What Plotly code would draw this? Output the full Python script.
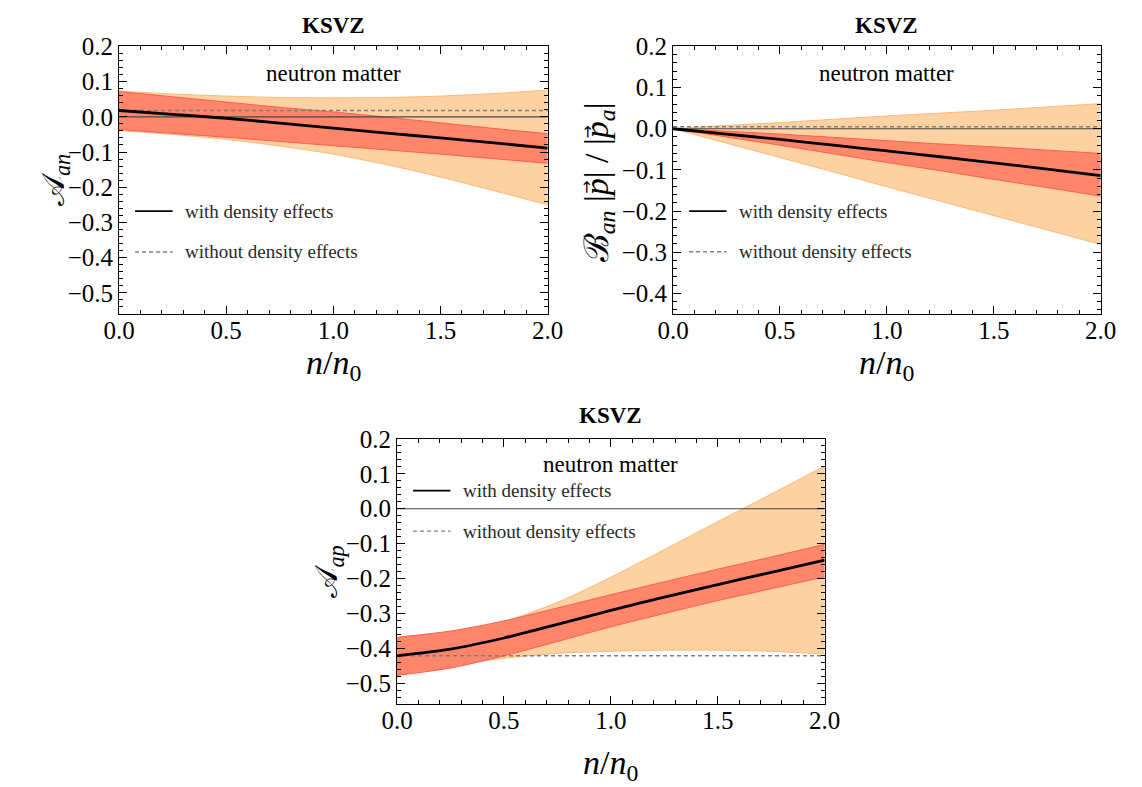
import plotly.graph_objects as go

x = [0.0, 0.25, 0.5, 0.75, 1.0, 1.25, 1.5, 1.75, 2.0]

# Panel 1: A_an
an_central = [0.018, 0.007, -0.004, -0.018, -0.032, -0.046, -0.060, -0.074, -0.089]
an_nodens = [0.018] * 9
an_red_hi = [0.072, 0.057, 0.042, 0.027, 0.014, -0.001, -0.017, -0.033, -0.048]
an_red_lo = [-0.036, -0.047, -0.058, -0.070, -0.082, -0.094, -0.106, -0.119, -0.132]
an_or_hi = [0.073, 0.065, 0.059, 0.055, 0.054, 0.055, 0.059, 0.066, 0.076]
an_or_lo = [-0.039, -0.050, -0.064, -0.083, -0.106, -0.136, -0.171, -0.210, -0.250]

# Panel 2: B_an |p|/|p_a|
bn_central = [0.0, -0.013, -0.026, -0.040, -0.054, -0.068, -0.083, -0.098, -0.114]
bn_nodens = [0.005] * 9
bn_red_hi = [0.0, -0.006, -0.013, -0.021, -0.029, -0.037, -0.044, -0.052, -0.060]
bn_red_lo = [0.0, -0.020, -0.040, -0.061, -0.082, -0.102, -0.123, -0.143, -0.164]
bn_or_hi = [0.0, 0.008, 0.015, 0.023, 0.031, 0.038, 0.045, 0.053, 0.061]
bn_or_lo = [0.0, -0.035, -0.070, -0.105, -0.141, -0.176, -0.211, -0.246, -0.281]

# Panel 3: A_ap
ap_central = [-0.421, -0.402, -0.370, -0.331, -0.291, -0.253, -0.217, -0.182, -0.147]
ap_nodens = [-0.421] * 9
ap_red_hi = [-0.368, -0.350, -0.321, -0.284, -0.246, -0.209, -0.173, -0.138, -0.102]
ap_red_lo = [-0.477, -0.456, -0.421, -0.380, -0.338, -0.300, -0.263, -0.229, -0.195]
ap_or_hi = [-0.370, -0.354, -0.323, -0.268, -0.196, -0.117, -0.037, 0.042, 0.122]
ap_or_lo = [-0.472, -0.449, -0.428, -0.414, -0.408, -0.405, -0.405, -0.408, -0.416]

panels = [
    dict(xa="x", ya="y", cen=an_central, nod=an_nodens, rh=an_red_hi, rl=an_red_lo,
         oh=an_or_hi, ol=an_or_lo, yr=[-0.56, 0.2], leg=(-0.268, -0.384), nm=0.123),
    dict(xa="x2", ya="y2", cen=bn_central, nod=bn_nodens, rh=bn_red_hi, rl=bn_red_lo,
         oh=bn_or_hi, ol=bn_or_lo, yr=[-0.45, 0.2], leg=(-0.200, -0.299), nm=0.134),
    dict(xa="x3", ya="y3", cen=ap_central, nod=ap_nodens, rh=ap_red_hi, rl=ap_red_lo,
         oh=ap_or_hi, ol=ap_or_lo, yr=[-0.56, 0.2], leg=(0.052, -0.064), nm=0.126),
]

OR_FILL = "rgb(253,210,163)"
OR_EDGE = "rgb(253,183,120)"
RED_FILL = "rgb(255,134,106)"
RED_EDGE = "rgb(250,95,75)"
FONT = "Liberation Serif, DejaVu Serif, serif"
SM = 0.8

fig = go.Figure()
for p in panels:
    xa, ya = p["xa"], p["ya"]
    fig.add_trace(go.Scatter(x=x, y=p["ol"], xaxis=xa, yaxis=ya, mode="lines",
                             line=dict(color=OR_EDGE, width=1, shape="spline", smoothing=SM),
                             showlegend=False, hoverinfo="skip"))
    fig.add_trace(go.Scatter(x=x, y=p["oh"], xaxis=xa, yaxis=ya, mode="lines",
                             line=dict(color=OR_EDGE, width=1, shape="spline", smoothing=SM),
                             fill="tonexty", fillcolor=OR_FILL,
                             showlegend=False, hoverinfo="skip"))
    fig.add_trace(go.Scatter(x=x, y=p["rl"], xaxis=xa, yaxis=ya, mode="lines",
                             line=dict(color=RED_EDGE, width=1, shape="spline", smoothing=SM),
                             showlegend=False, hoverinfo="skip"))
    fig.add_trace(go.Scatter(x=x, y=p["rh"], xaxis=xa, yaxis=ya, mode="lines",
                             line=dict(color=RED_EDGE, width=1, shape="spline", smoothing=SM),
                             fill="tonexty", fillcolor=RED_FILL,
                             showlegend=False, hoverinfo="skip"))
    # zero line
    fig.add_trace(go.Scatter(x=[x[0], x[-1]], y=[0, 0], xaxis=xa, yaxis=ya, mode="lines",
                             line=dict(color="rgb(70,70,70)", width=1.2),
                             showlegend=False, hoverinfo="skip"))
    fig.add_trace(go.Scatter(x=x, y=p["nod"], xaxis=xa, yaxis=ya, mode="lines",
                             line=dict(color="rgb(125,125,125)", width=1.6, dash="4px,3px"),
                             showlegend=False, hoverinfo="skip"))
    fig.add_trace(go.Scatter(x=x, y=p["cen"], xaxis=xa, yaxis=ya, mode="lines",
                             line=dict(color="black", width=2.8, shape="spline", smoothing=SM),
                             showlegend=False, hoverinfo="skip"))
    # legend samples
    ys, yd = p["leg"]
    fig.add_trace(go.Scatter(x=[0.075, 0.25], y=[ys, ys], xaxis=xa, yaxis=ya, mode="lines",
                             line=dict(color="black", width=1.8),
                             showlegend=False, hoverinfo="skip"))
    fig.add_trace(go.Scatter(x=[0.075, 0.25], y=[yd, yd], xaxis=xa, yaxis=ya, mode="lines",
                             line=dict(color="rgb(125,125,125)", width=1.4, dash="4px,3px"),
                             showlegend=False, hoverinfo="skip"))
    fig.add_annotation(x=0.30, y=ys, xref=xa, yref=ya, text="with density effects",
                       showarrow=False, xanchor="left", yanchor="middle",
                       font=dict(family=FONT, size=19, color="rgb(40,40,40)"))
    fig.add_annotation(x=0.30, y=yd, xref=xa, yref=ya, text="without density effects",
                       showarrow=False, xanchor="left", yanchor="middle",
                       font=dict(family=FONT, size=19, color="rgb(40,40,40)"))
    fig.add_annotation(x=1.0, y=p["nm"], xref=xa, yref=ya, text="neutron matter",
                       showarrow=False, xanchor="center", yanchor="middle",
                       font=dict(family=FONT, size=23, color="black"))

W, H = 1142, 787
dom = {
    "1": ([106 / W, 547 / W], [1 - 306 / H, 1 - 34 / H]),
    "2": ([676 / W, 1116 / W], [1 - 306 / H, 1 - 34 / H]),
    "3": ([392 / W, 832 / W], [1 - 703 / H, 1 - 433 / H]),
}

def xaxis(d, anchor):
    return dict(domain=d, range=[0, 2], anchor=anchor, showline=True, linecolor="black",
                linewidth=1, mirror="allticks", ticks="inside", ticklen=8, tickwidth=1,
                tickcolor="black", dtick=0.5, tick0=0, tickformat=".1f",
                ticklabelstandoff=-6,
                minor=dict(ticks="inside", dtick=0.1, ticklen=4, tickcolor="black", showgrid=False),
                showgrid=False, zeroline=False,
                tickfont=dict(family=FONT, size=25, color="black"))

def yaxis(d, anchor, r):
    return dict(domain=d, range=r, anchor=anchor, showline=True, linecolor="black",
                linewidth=1, mirror="allticks", ticks="inside", ticklen=8, tickwidth=1,
                tickcolor="black", dtick=0.1, tick0=0, tickformat=".1f",
                minor=dict(ticks="inside", dtick=0.02, ticklen=4, tickcolor="black", showgrid=False),
                showgrid=False, zeroline=False,
                tickfont=dict(family=FONT, size=25, color="black"))

fig.update_layout(
    width=W, height=H, margin=dict(l=0, r=0, t=0, b=0),
    plot_bgcolor="white", paper_bgcolor="white", showlegend=False,
    xaxis=xaxis(dom["1"][0], "y"), yaxis=yaxis(dom["1"][1], "x", panels[0]["yr"]),
    xaxis2=xaxis(dom["2"][0], "y2"), yaxis2=yaxis(dom["2"][1], "x2", panels[1]["yr"]),
    xaxis3=xaxis(dom["3"][0], "y3"), yaxis3=yaxis(dom["3"][1], "x3", panels[2]["yr"]),
)

# Titles
for cx, cy in [((106 + 547) / 2, 13), ((676 + 1116) / 2, 13), ((392 + 832) / 2, 409)]:
    fig.add_annotation(x=cx / W, y=1 - cy / H, xref="paper", yref="paper", text="<b>KSVZ</b>",
                       showarrow=False, xanchor="center", yanchor="middle",
                       font=dict(family=FONT, size=23, color="black"))

# x-axis titles
for cx, cy in [((106 + 547) / 2, 358), ((676 + 1116) / 2, 358), ((392 + 832) / 2, 765)]:
    fig.add_annotation(x=cx / W, y=1 - cy / H, xref="paper", yref="paper",
                       text="<i>n</i>/<i>n</i><sub>0</sub>",
                       showarrow=False, xanchor="center", yanchor="middle",
                       font=dict(family=FONT, size=34, color="black"))

# y-axis titles
ytitles = [
    (40, (34 + 306) / 2, "\U0001D49C<sub><i>an</i></sub>", 32),
    (600, 172, "\u212C<sub><i>an</i></sub> |<i>p</i>| / |<i>p</i><sub><i>a</i></sub>|", 34),
    (322, (433 + 703) / 2, "\U0001D49C<sub><i>ap</i></sub>", 32),
]
for cx, cy, t, fs in ytitles:
    fig.add_annotation(x=cx / W, y=1 - cy / H, xref="paper", yref="paper", text=t,
                       showarrow=False, xanchor="center", yanchor="middle", textangle=-90,
                       font=dict(family=FONT, size=fs, color="black"))

# vector arrows over the two p's
for ay in [177, 121]:
    fig.add_annotation(x=587 / W, y=1 - ay / H, xref="paper", yref="paper", text="\u2192",
                       showarrow=False, xanchor="center", yanchor="middle", textangle=-90,
                       font=dict(family="DejaVu Sans", size=16, color="black"))

fig.write_html("out.html")
